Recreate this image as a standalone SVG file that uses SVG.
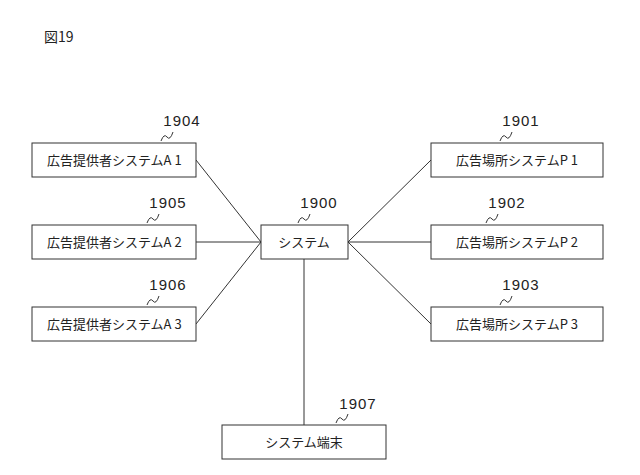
<svg xmlns="http://www.w3.org/2000/svg" width="640" height="475" viewBox="0 0 640 475">
<style>
rect{fill:#fff;stroke:#333;stroke-width:1}
text{font-family:"Noto Sans CJK JP","Noto Sans",sans-serif;font-size:13px;fill:#222}
.n{font-family:"Liberation Sans",sans-serif;font-size:15px;letter-spacing:1px;text-anchor:middle}
.s{fill:none;stroke:#333;stroke-width:1}
line{stroke:#333;stroke-width:1}
</style>
<rect x="0" y="0" width="640" height="475" style="stroke:none"/>
<text x="44" y="42" style="font-size:14px">図19</text>
<g id="connectors">
<line x1="196" y1="160" x2="261" y2="242"/>
<line x1="196" y1="242" x2="261" y2="242"/>
<line x1="196" y1="324" x2="261" y2="242"/>
<line x1="348" y1="242" x2="431" y2="160"/>
<line x1="348" y1="242" x2="431" y2="242"/>
<line x1="348" y1="242" x2="431" y2="324"/>
<line x1="304" y1="259" x2="304" y2="425"/>
</g>
<g id="n1904"><rect x="32" y="143" width="164" height="34"/><text x="47" y="165">広告提供者システムA 1</text><text class="n" x="182" y="126">1904</text><path class="s" d="M161 141 q3 -8 6 -4 q3 4 6 -5"/></g>
<g id="n1905"><rect x="32" y="225" width="164" height="34"/><text x="47" y="247">広告提供者システムA 2</text><text class="n" x="168" y="208">1905</text><path class="s" d="M147 223 q3 -8 6 -4 q3 4 6 -5"/></g>
<g id="n1906"><rect x="32" y="307" width="164" height="34"/><text x="47" y="329">広告提供者システムA 3</text><text class="n" x="168" y="290">1906</text><path class="s" d="M147 305 q3 -8 6 -4 q3 4 6 -5"/></g>
<g id="n1900"><rect x="261" y="225" width="87" height="34"/><text x="304" y="247" text-anchor="middle">システム</text><text class="n" x="319" y="208">1900</text><path class="s" d="M298 223 q3 -8 6 -4 q3 4 6 -5"/></g>
<g id="n1901"><rect x="431" y="143" width="172" height="34"/><text x="517" y="165" text-anchor="middle">広告場所システムP 1</text><text class="n" x="521" y="126">1901</text><path class="s" d="M500 141 q3 -8 6 -4 q3 4 6 -5"/></g>
<g id="n1902"><rect x="431" y="225" width="172" height="34"/><text x="517" y="247" text-anchor="middle">広告場所システムP 2</text><text class="n" x="507" y="208">1902</text><path class="s" d="M486 223 q3 -8 6 -4 q3 4 6 -5"/></g>
<g id="n1903"><rect x="431" y="307" width="172" height="34"/><text x="517" y="329" text-anchor="middle">広告場所システムP 3</text><text class="n" x="521" y="290">1903</text><path class="s" d="M500 305 q3 -8 6 -4 q3 4 6 -5"/></g>
<g id="n1907"><rect x="222" y="425" width="164" height="34"/><text x="304" y="447" text-anchor="middle">システム端末</text><text class="n" x="358" y="409">1907</text><path class="s" d="M336 423 q3 -8 6 -4 q3 4 6 -5"/></g>
</svg>
